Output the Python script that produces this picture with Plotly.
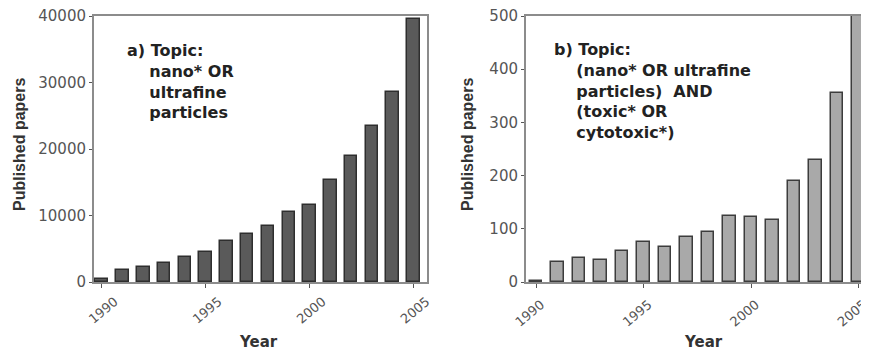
import plotly.graph_objects as go

years = list(range(1990, 2006))
papers_a = [400, 1800, 2300, 2800, 3700, 4500, 6100, 7200, 8400, 10500, 11600, 15300, 18900, 23400, 28500, 39500]
papers_b = [2, 37, 45, 41, 58, 75, 66, 84, 94, 125, 122, 117, 189, 229, 356, 500]
year_ticks = [1990, 1995, 2000, 2005]
ticks_a = [0, 10000, 20000, 30000, 40000]
ticks_b = [0, 100, 200, 300, 400, 500]
label_a = ["a) Topic:", "nano* OR", "ultrafine", "particles"]
label_b = ["b) Topic:", "(nano* OR ultrafine", "particles)  AND", "(toxic* OR", "cytotoxic*)"]

# page body has an 8px margin; build the figure so the visible window matches the reference
OFF = 8
W, H = 869 - OFF, 351 - OFF
FONT = "Liberation Sans, Arial, sans-serif"
DJV = "DejaVu Sans, sans-serif"

def px(x):
    return (x - OFF) / W

def py(y):
    return 1 - (y - OFF) / H

fig = go.Figure()
fig.add_trace(go.Bar(x=years, y=papers_a, width=0.6, xaxis="x", yaxis="y",
                     marker=dict(color="#5a5a5a", line=dict(color="#2e2e2e", width=1.5)),
                     showlegend=False))
fig.add_trace(go.Bar(x=years, y=papers_b, width=0.57, xaxis="x2", yaxis="y2",
                     marker=dict(color="#a9a9a9", line=dict(color="#3c3c3c", width=1.5)),
                     showlegend=False))

def axis_style(size):
    return dict(showline=True, mirror=True, linecolor="#8c8c8c", linewidth=2,
                showgrid=False, zeroline=False, ticks="outside", tickcolor="#555",
                automargin=False, ticklabeloverflow="allow",
                tickfont=dict(family=DJV, size=size, color="#555"))

fig.update_layout(
    width=W, height=H,
    margin=dict(l=0, r=0, t=0, b=0),
    paper_bgcolor="white", plot_bgcolor="white",
    bargap=0,
    xaxis=dict(domain=[px(94), px(427)], range=[1989.63, 2005.65], anchor="y",
               tickvals=year_ticks, ticktext=[str(v) for v in year_ticks],
               tickangle=-40, ticklen=4, ticklabelshift=13, ticklabelstandoff=1,
               **axis_style(13)),
    yaxis=dict(domain=[py(282), py(16)], range=[0, 40000], anchor="x",
               tickvals=ticks_a, ticktext=[str(v) for v in ticks_a],
               ticklen=3, **axis_style(15)),
    xaxis2=dict(domain=[px(526), px(866)], range=[1989.53, 2005.35], anchor="y2",
                tickvals=year_ticks, ticktext=[str(v) for v in year_ticks],
                tickangle=-40, ticklen=4, ticklabelshift=5, ticklabelstandoff=4,
                **axis_style(13)),
    yaxis2=dict(domain=[py(282), py(16)], range=[0, 500], anchor="x2",
                tickvals=ticks_b, ticktext=[str(v) for v in ticks_b],
                ticklen=3, **axis_style(15)),
)

IND = "\u00a0" * 4

def block(lines):
    return "<b>" + "<br>".join([lines[0]] + [IND + l for l in lines[1:]]) + "</b>"

anns = [
    dict(x=px(125), y=py(39), text=block(label_a), align="left",
         xref="paper", yref="paper", xanchor="left", yanchor="top", showarrow=False,
         font=dict(family=DJV, size=16, color="#222")),
    dict(x=px(552), y=py(38), text=block(label_b), align="left",
         xref="paper", yref="paper", xanchor="left", yanchor="top", showarrow=False,
         font=dict(family=DJV, size=16, color="#222")),
]
for xx in (20, 468):
    anns.append(dict(x=px(xx), y=py(145), text="<b>Published papers</b>", textangle=-90,
                     xref="paper", yref="paper", xanchor="center", yanchor="middle",
                     showarrow=False, font=dict(family=FONT, size=16, color="#333")))
for xx in (258, 703):
    anns.append(dict(x=px(xx), y=py(342), text="<b>Year</b>",
                     xref="paper", yref="paper", xanchor="center", yanchor="middle",
                     showarrow=False, font=dict(family=DJV, size=15, color="#333")))
fig.update_layout(annotations=anns)

fig.write_html("out.html")
